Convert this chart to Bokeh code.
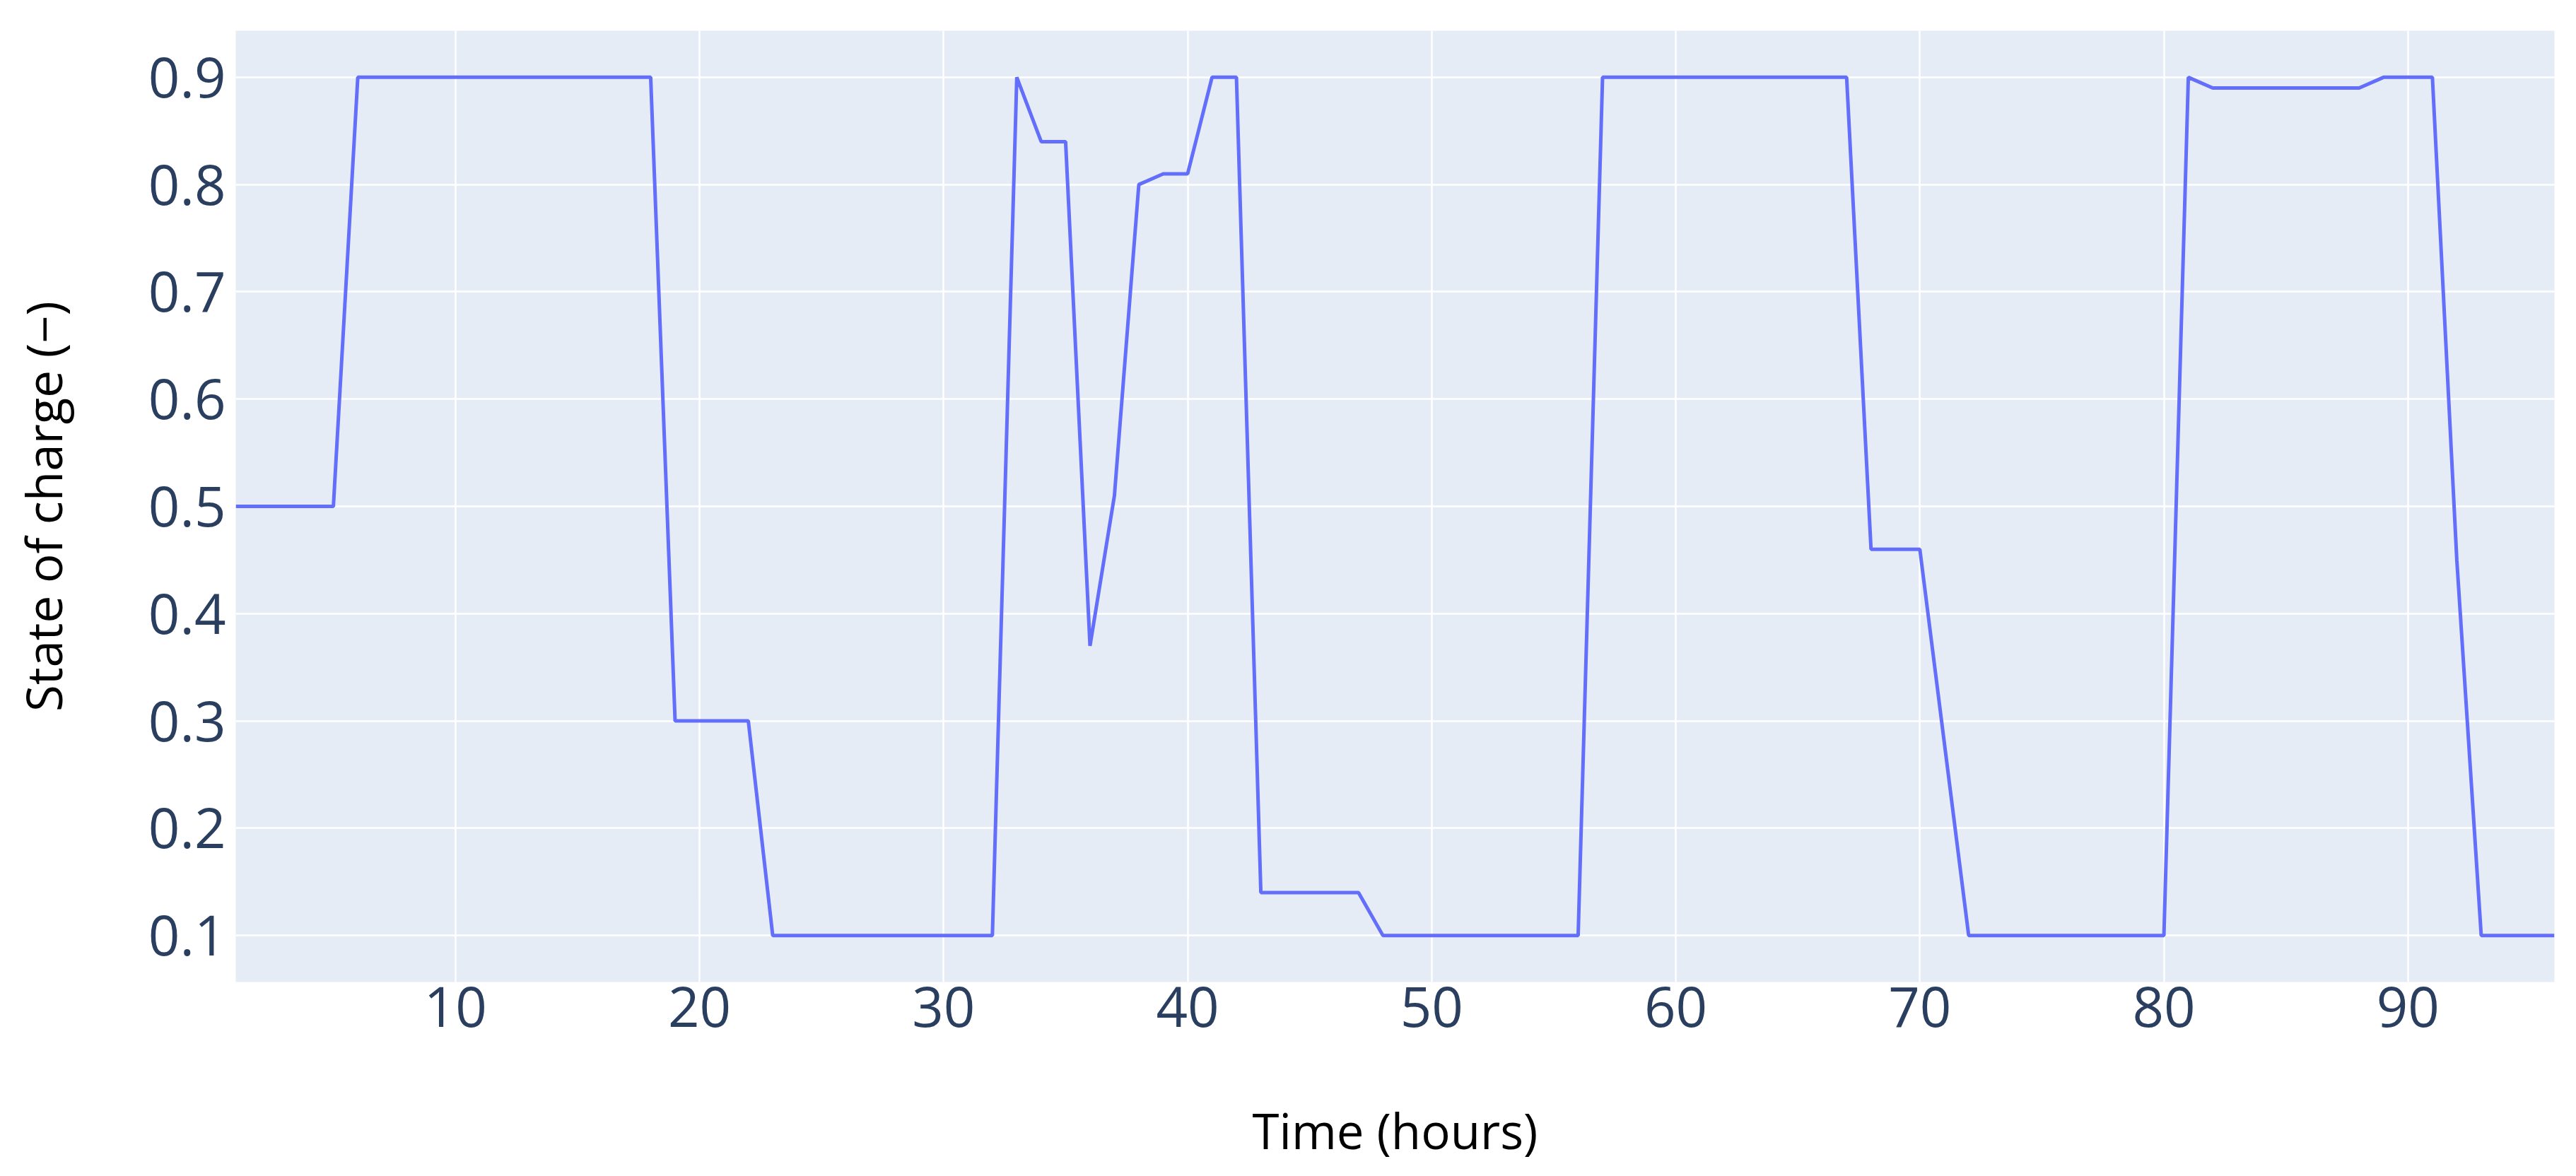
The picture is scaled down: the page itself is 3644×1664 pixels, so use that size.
from bokeh.plotting import figure
from bokeh.models import Range1d, FixedTicker
from bokeh.embed import file_html
from bokeh.resources import INLINE

# Hours 1..96
hours = list(range(1, 97))
soc = [
    0.5, 0.5, 0.5, 0.5, 0.5,                       # 1-5
    0.9, 0.9, 0.9, 0.9, 0.9, 0.9, 0.9, 0.9, 0.9,   # 6-14
    0.9, 0.9, 0.9, 0.9,                            # 15-18
    0.3, 0.3, 0.3, 0.3,                            # 19-22
    0.1, 0.1, 0.1, 0.1, 0.1, 0.1, 0.1, 0.1, 0.1, 0.1,  # 23-32
    0.9, 0.84, 0.84, 0.37, 0.51, 0.80, 0.81, 0.81, 0.9, 0.9,  # 33-42
    0.14, 0.14, 0.14, 0.14, 0.14,                  # 43-47
    0.1, 0.1, 0.1, 0.1, 0.1, 0.1, 0.1, 0.1, 0.1,   # 48-56
    0.9, 0.9, 0.9, 0.9, 0.9, 0.9, 0.9, 0.9, 0.9, 0.9, 0.9,  # 57-67
    0.46, 0.46, 0.46, 0.28,                        # 68-71
    0.1, 0.1, 0.1, 0.1, 0.1, 0.1, 0.1, 0.1, 0.1,   # 72-80
    0.9, 0.89, 0.89, 0.89, 0.89, 0.89, 0.89, 0.89, # 81-88
    0.9, 0.9, 0.9, 0.45,                           # 89-92
    0.1, 0.1, 0.1, 0.1,                            # 93-96
]

x_ticks = [10, 20, 30, 40, 50, 60, 70, 80, 90]
y_ticks = [0.1, 0.2, 0.3, 0.4, 0.5, 0.6, 0.7, 0.8, 0.9]

p = figure(width=3628, height=1648, output_backend="svg", toolbar_location=None,
           x_range=Range1d(1, 96), y_range=Range1d(0.0566, 0.9434))
p.min_border_left = 333
p.min_border_right = 15
p.min_border_top = 43
p.min_border_bottom = 256
p.outline_line_color = None
p.background_fill_color = "#E5ECF6"
p.border_fill_color = "white"

p.line(hours, soc, line_color="#636EFA", line_width=5)

p.xaxis.ticker = FixedTicker(ticks=x_ticks)
p.yaxis.ticker = FixedTicker(ticks=y_ticks)
for ax in (p.xaxis[0], p.yaxis[0]):
    ax.axis_line_color = None
    ax.major_tick_line_color = None
    ax.minor_tick_line_color = None
    ax.major_label_text_font = "Open Sans"
    ax.major_label_text_font_size = "78px"
    ax.major_label_text_color = "#2a3f5f"
    ax.axis_label_text_font = "Open Sans"
    ax.axis_label_text_font_size = "69px"
    ax.axis_label_text_font_style = "normal"
    ax.axis_label_text_color = "black"

p.xaxis.axis_label = "Time (hours)"
p.yaxis.axis_label = "State of charge (\u2212)"
p.xaxis.major_label_standoff = 0
p.yaxis.major_label_standoff = 8
p.xaxis.axis_label_standoff = 96
p.yaxis.axis_label_standoff = 99

p.xgrid.grid_line_color = "white"
p.ygrid.grid_line_color = "white"
p.xgrid.grid_line_width = 2.5
p.ygrid.grid_line_width = 2.5

open("out.html", "w").write(file_html(p, INLINE))
